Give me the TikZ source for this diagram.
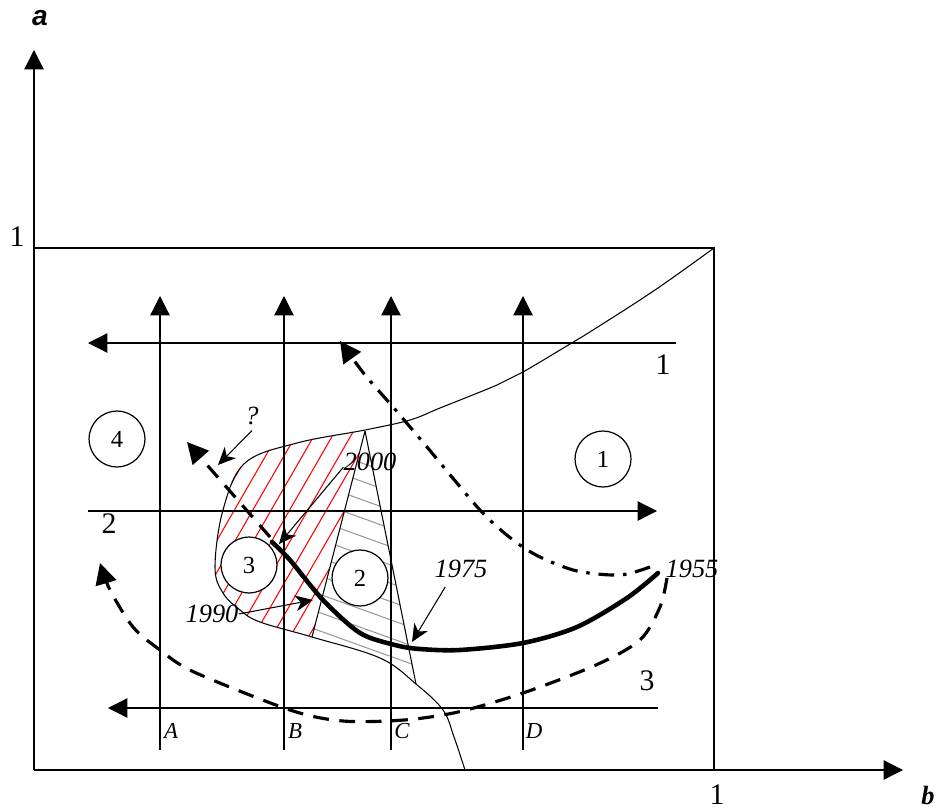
\documentclass[tikz,border=0pt]{standalone}
\usepackage{fontspec}
\setmainfont{Liberation Serif}
\newfontfamily\axisfont{Liberation Sans}
\usetikzlibrary{arrows.meta}

\begin{document}
\begin{tikzpicture}[x=0.02cm, y=-0.02cm,
    axis/.style={line width=0.7pt, -{Triangle[length=11pt,width=11pt]}},
    dir/.style={line width=0.7pt, -{Triangle[length=11pt,width=11pt]}},
    edge/.style={line width=0.6pt},
    zone/.style={draw, circle, line width=0.7pt, fill=white, minimum size=31.8pt, inner sep=0pt, font=\fontsize{14}{14}\selectfont},
    num/.style={inner sep=0pt, font=\fontsize{17}{17}\selectfont},
    yr/.style={inner sep=0pt, font=\fontsize{15}{15}\selectfont\itshape},
    col/.style={inner sep=0pt, font=\fontsize{13}{13}\selectfont\itshape},
    ptr/.style={line width=0.6pt, -{Stealth[length=10pt,width=9pt,inset=3pt]}},
    trend/.style={line width=2.6pt, line cap=round},
    back/.style={line width=1.8pt, dash pattern=on 9pt off 6pt, -{Triangle[length=12pt,width=12pt]}},
    dashdot/.style={line width=1.8pt, dash pattern=on 9pt off 5pt on 2pt off 5pt, -{Triangle[length=12pt,width=12pt]}}
]
\useasboundingbox (0,0) rectangle (943,811);

% axes and unit square
\coordinate (O) at (34,770);
\coordinate (ya) at (34,50);
\coordinate (xb) at (903,770);
\coordinate (yone) at (34,248);
\coordinate (P) at (714,248);
\coordinate (xone) at (714,770);
\draw[axis] (O) -- (ya);
\draw[axis] (O) -- (xb);
\draw[edge, line width=0.7pt] (yone) -- (P) -- (xone);
\node[inner sep=0pt, font=\axisfont\fontsize{16}{16}\selectfont\bfseries\itshape] (alab) at (40,18) {a};
\node[inner sep=0pt, font=\fontsize{15}{15}\selectfont\bfseries\itshape] (blab) at (928,795) {b};
\node[num] (ylab) at (17,237) {1};
\node[num] (xlab) at (717,795) {1};

% hatched zones
\begin{scope}
\clip plot[smooth, tension=0.6] coordinates {(365,430) (297,443) (245,463) (223,510) (215,567) (223,593) (240,610) (260,622) (312,637)} -- cycle;
\foreach \k in {-4,...,10}
  \draw[red, line width=0.6pt] (70+18.4*\k,795) -- ++(300,-520);
\end{scope}
\begin{scope}
\clip (365,432) -- (312,637) -- (380,658) -- (416,684) -- cycle;
\foreach \k in {-2,...,10}
  \draw[gray!80, line width=0.6pt] (300,477.4+18.3*\k) -- ++(150,54);
\end{scope}

% zone boundary
\draw[edge] plot[smooth, tension=0.6] coordinates {(714,248) (655,290) (593,330) (570,344) (523,372) (497,385) (440,408) (410,420) (365,430) (297,443) (245,463) (223,510) (215,567) (223,593) (240,610) (260,622) (312,637) (380,658) (416,684) (443,710) (454,737) (465,770)};
\coordinate (T) at (365,431);
\coordinate (Lb) at (312,637);
\coordinate (Rb) at (416,684);
\draw[edge] (T) -- (Lb);
\draw[edge] (T) -- (Rb);

% directions
\foreach \x/\c in {160/A,284/B,391/C,523/D}{
  \coordinate (\c0) at (\x,750);
  \coordinate (\c1) at (\x,296);
  \draw[dir] (\c0) -- (\c1);
  \node[col] (lab\c) at (\x+11,731) {\c};
}
\coordinate (h1a) at (676,343);
\coordinate (h1b) at (88,343);
\coordinate (h2a) at (88,511);
\coordinate (h2b) at (657,511);
\coordinate (h3a) at (658,708);
\coordinate (h3b) at (108,708);
\draw[dir] (h1a) -- (h1b);
\draw[dir] (h2a) -- (h2b);
\draw[dir] (h3a) -- (h3b);
\node[num] (l1) at (663,365) {1};
\node[num] (l2) at (109,524) {2};
\node[num] (l3) at (647,681) {3};

% zones
\node[zone] (z1) at (603,459) {1};
\node[zone] (z2) at (360,578) {2};
\node[zone] (z3) at (249,565) {3};
\node[zone] (z4) at (117,439) {4};

% trajectories
\draw[trend] plot[smooth] coordinates {(658,573) (627,598) (577,627) (523,643) (460,650) (420,649) (395,645) (360,633) (323,600) (290,560) (272,542)};
\coordinate (q0) at (270,537);
\coordinate (q1) at (187,442);
\draw[back] (q0) -- (q1);
\draw[back] plot[smooth] coordinates {(667,578) (660,607) (640,640) (596,665) (523,693) (458,712) (404,720) (343,721) (290,710) (194,672) (160,650) (133,627) (110,590) (100,563)};
\draw[dashdot] plot[smooth] coordinates {(650,567) (620,575) (577,571) (540,557) (513,540) (480,510) (427,447) (393,407) (365,375) (340,341)};

% years
\node[col, font=\fontsize{15}{15}\selectfont\itshape] (qm) at (252,416) {?};
\coordinate (qp) at (218,465);
\draw[ptr] ([yshift=-3pt]qm.south) -- (qp);
\node[yr] (y2000) at (370,462) {2000};
\coordinate (p2000) at (279,544);
\draw[ptr] ([yshift=-3pt]y2000.west) -- (p2000);
\node[yr] (y1990) at (212,614) {1990};
\coordinate (p1990) at (313,600);
\draw[ptr] (y1990.east) -- (p1990);
\node[yr] (y1975) at (461,569) {1975};
\coordinate (p1975) at (412,642);
\draw[ptr] ([xshift=-9pt,yshift=-5pt]y1975.south) -- (p1975);
\node[yr] (y1955) at (692,569) {1955};
\end{tikzpicture}
\end{document}
